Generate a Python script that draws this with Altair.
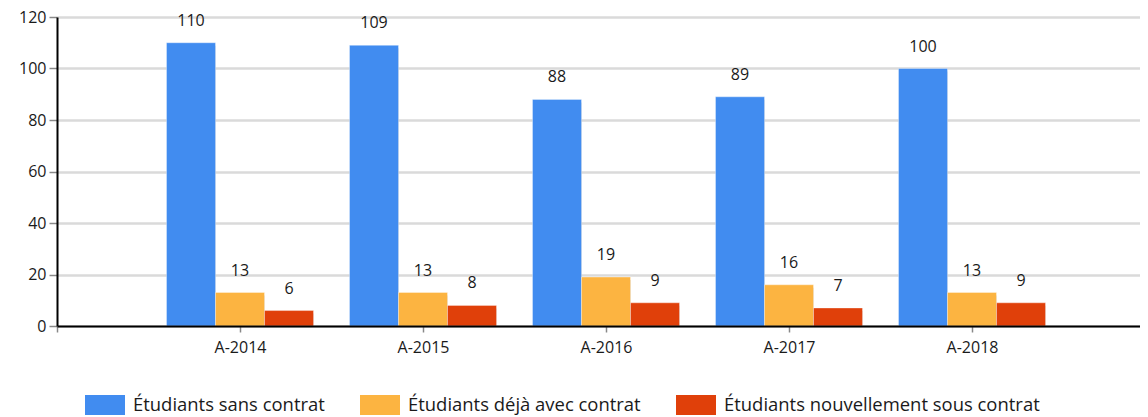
import altair as alt
import pandas as pd

years = ["A-2014", "A-2015", "A-2016", "A-2017", "A-2018"]
series = ["Étudiants sans contrat", "Étudiants déjà avec contrat", "Étudiants nouvellement sous contrat"]
sans_contrat = [110, 109, 88, 89, 100]
deja_contrat = [13, 13, 19, 16, 13]
nouveau_contrat = [6, 8, 9, 7, 9]
colors = ["#418CF0", "#FCB441", "#E0400A"]

rows = []
for i, y in enumerate(years):
    for s, vals in enumerate([sans_contrat, deja_contrat, nouveau_contrat]):
        rows.append({"annee": y, "pos": i + 1, "s": s, "serie": series[s], "valeur": vals[i]})
df = pd.DataFrame(rows)

W = 1083
H = 309
STEP = 183.0
BW = 49.0 / STEP
labels_expr = "datum.value >= 1 && datum.value <= 5 ? " + str(years) + "[datum.value - 1] : ''"

base = alt.Chart(df).transform_calculate(
    x0=f"datum.pos + (datum.s - 1.5) * {BW}",
    x1=f"datum.pos + (datum.s - 0.5) * {BW}",
    xc=f"datum.pos + (datum.s - 1) * {BW}",
)

xscale = alt.Scale(domain=[0, W / STEP], nice=False, zero=False, padding=0)
yscale = alt.Scale(domain=[0, 120], nice=False, padding=0)

xaxis = alt.Axis(
    values=[0, 1, 2, 3, 4, 5], labelExpr=labels_expr, title=None, grid=False,
    domainColor="#000000", domainWidth=2, tickColor="#888888", tickSize=6, tickWidth=1.5,
    labelFont="Open Sans", labelFontSize=16, labelColor="#1a1a1a", labelPadding=7, zindex=1,
)
yaxis = alt.Axis(
    values=[0, 20, 40, 60, 80, 100, 120], title=None, grid=True, gridColor="#dadada", gridWidth=2.5,
    domainColor="#000000", domainWidth=2, tickColor="#888888", tickSize=8, tickWidth=1.5,
    labelFont="Open Sans", labelFontSize=16, labelColor="#1a1a1a", labelPadding=3, zindex=0,
)

shadow = base.mark_bar(color="#7a7a7a", opacity=0.55, xOffset=3, yOffset=3).encode(
    x=alt.X("x0:Q", scale=xscale, axis=xaxis),
    x2="x1:Q",
    y=alt.Y("valeur:Q", scale=yscale, axis=yaxis),
    y2=alt.datum(0),
)

bars = base.mark_bar(stroke="#ffffff", strokeOpacity=0.35, strokeWidth=1).encode(
    x=alt.X("x0:Q", scale=xscale),
    x2="x1:Q",
    y=alt.Y("valeur:Q", scale=yscale),
    y2=alt.datum(0),
    color=alt.Color(
        "serie:N",
        scale=alt.Scale(domain=series, range=colors),
        legend=alt.Legend(
            title=None, orient="none", direction="horizontal", legendX=28, legendY=368,
            symbolType="M-1,-0.5H1V0.5H-1Z", symbolSize=1600, symbolStrokeWidth=0,
            symbolOpacity=1, labelFont="Open Sans", labelFontSize=18.45, labelColor="#1a1a1a",
            labelOffset=8, columnPadding=35, padding=0, labelLimit=500,
        ),
    ),
)

texts = base.mark_text(font="Open Sans", fontSize=16, color="#1a1a1a", baseline="middle", dy=-22).encode(
    x=alt.X("xc:Q", scale=xscale),
    y=alt.Y("valeur:Q", scale=yscale),
    text="valeur:Q",
)

chart = alt.layer(shadow, bars, texts).properties(
    width=W, height=H,
    autosize=alt.AutoSizeParams(type="none"),
    padding={"left": 49, "top": 9, "right": 0, "bottom": 91},
).configure_view(stroke=None)

chart.save("out.html", embed_options={"renderer": "svg", "actions": False})
